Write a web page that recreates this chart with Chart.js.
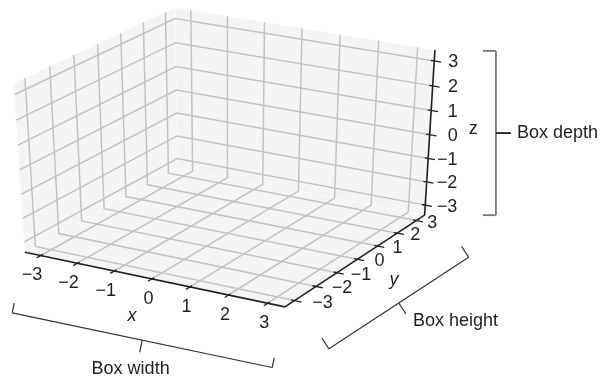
<!DOCTYPE html>
<html>
<head>
<meta charset="utf-8">
<script src="https://cdn.jsdelivr.net/npm/chart.js@4/dist/chart.umd.min.js"></script>
<style>
    html, body { margin: 0; padding: 0; background: #fff; }
</style>
</head>
<body>
<canvas id="chart-box" width="609" height="378"></canvas>
<script>
(function () {
    // ===== 데이터 =====
    const ticks = [-3, -2, -1, 0, 1, 2, 3];            // x, y, z 공통 눈금
    const tickLabels = ['−3', '−2', '−1', '0', '1', '2', '3'];
    const dataLimits = [-3.3, 3.3];                      // 자동 스케일된 축 범위
    const axisNames = ['x', 'y', 'z'];
    const bracketLabels = ['Box width', 'Box height', 'Box depth'];

    // ===== 3D 투영 (matplotlib mplot3d 기본 시점) =====
    const elev = 30, azim = -60, dist = 10;
    const span = dataLimits[1] - dataLimits[0];
    const lo = dataLimits[0] - span / 48;
    const hi = dataLimits[1] + span / 48;
    const tickDelta = span / 12;

    const el = elev * Math.PI / 180, az = azim * Math.PI / 180;
    const N = [Math.cos(az) * Math.cos(el), Math.sin(az) * Math.cos(el), Math.sin(el)];
    const U = [-Math.sin(az), Math.cos(az), 0];
    const V = [-Math.cos(az) * Math.sin(el), -Math.sin(az) * Math.sin(el), Math.cos(el)];

    function dot(a, b) { return a[0] * b[0] + a[1] * b[1] + a[2] * b[2]; }

    function project(p) {
        const q = p.map(function (v) { return (v - dataLimits[0]) / span - 0.5; });
        const w = dist - dot(N, q);
        return { x: dot(U, q) / w, y: dot(V, q) / w };
    }

    // 화면 배치: 투영좌표 0 의 픽셀 위치와 단위당 픽셀
    const W = 609, H = 378;
    const origin = [228, 152];
    const pxPerUnit = [2881, 1851];

    // ===== 스타일 =====
    const TEXT = '#231f20';
    const GRID = '#c1c2c6';
    const FONT = '18px "Liberation Sans", Arial, Helvetica, sans-serif';
    const ITALIC = 'italic 18px "Liberation Sans", Arial, Helvetica, sans-serif';

    function line(points, color, width, order, extra) {
        return Object.assign({
            data: points.map(project),
            showLine: true,
            borderColor: color,
            borderWidth: width,
            pointRadius: 0,
            fill: false,
            order: order
        }, extra || {});
    }

    const datasets = [];

    // 패널 (x=min, y=max, z=min)
    const panes = [
        [[lo, lo, lo], [lo, hi, lo], [lo, hi, hi], [lo, lo, hi], [lo, lo, lo]],
        [[lo, hi, lo], [hi, hi, lo], [hi, hi, hi], [lo, hi, hi], [lo, hi, lo]],
        [[lo, lo, lo], [hi, lo, lo], [hi, hi, lo], [lo, hi, lo], [lo, lo, lo]]
    ];
    panes.forEach(function (p) {
        datasets.push(line(p, '#fafafb', 1, 5, { fill: 'shape', backgroundColor: '#f3f4f5' }));
    });

    // 그리드
    ticks.forEach(function (v) {
        datasets.push(line([[v, lo, lo], [v, hi, lo], [v, hi, hi]], GRID, 1.5, 4));
        datasets.push(line([[lo, v, hi], [lo, v, lo], [hi, v, lo]], GRID, 1.5, 4));
        datasets.push(line([[hi, hi, v], [lo, hi, v], [lo, lo, v]], GRID, 1.5, 4));
    });

    // 축선
    datasets.push(line([[lo, lo, lo], [hi, lo, lo]], TEXT, 1.6, 2));
    datasets.push(line([[hi, lo, lo], [hi, hi, lo]], TEXT, 1.6, 2));
    datasets.push(line([[hi, hi, lo], [hi, hi, hi]], TEXT, 1.6, 2));

    // 눈금선
    const tIn = 0.1 * tickDelta * 1.6, tOut = 0.2 * tickDelta * 1.6;
    ticks.forEach(function (v) {
        datasets.push(line([[v, lo + tIn, lo], [v, lo - tOut, lo]], TEXT, 1.3, 1));
        datasets.push(line([[hi - tIn, v, lo], [hi + tOut, v, lo]], TEXT, 1.3, 1));
        datasets.push(line([[hi - tIn, hi, v], [hi + tOut, hi, v]], TEXT, 1.3, 1));
    });

    // ===== 텍스트 / 괄호 플러그인 =====
    const labelPlugin = {
        id: 'boxLabels',
        afterDatasetsDraw: function (chart) {
            const ctx = chart.ctx;
            const sx = chart.scales.x, sy = chart.scales.y;
            function px(p) {
                const r = project(p);
                return [sx.getPixelForValue(r.x), sy.getPixelForValue(r.y)];
            }
            function seg(a, b, color, width) {
                ctx.beginPath();
                ctx.strokeStyle = color;
                ctx.lineWidth = width;
                ctx.moveTo(a[0], a[1]);
                ctx.lineTo(b[0], b[1]);
                ctx.stroke();
            }

            ctx.save();
            ctx.fillStyle = TEXT;
            ctx.font = FONT;
            ctx.textBaseline = 'middle';

            // 눈금 라벨
            ticks.forEach(function (v, i) {
                let p = px([v, lo, lo]);
                ctx.textAlign = 'right';
                ctx.fillText(tickLabels[i], p[0] + 1.5, p[1] + 20);

                p = px([hi, v, lo]);
                ctx.textAlign = 'center';
                ctx.fillText(tickLabels[i], p[0] + 22 - 2 * v, p[1] + 2);

                p = px([hi, hi, v]);
                ctx.textAlign = 'right';
                ctx.fillText(tickLabels[i], p[0] + 28 - 1.33 * v, p[1] + 1.5);
            });

            // 축 이름
            ctx.font = ITALIC;
            ctx.textAlign = 'center';
            let m = px([0, lo, lo]);
            ctx.fillText(axisNames[0], m[0] - 20, m[1] + 37.5);
            m = px([hi, 0, lo]);
            ctx.fillText(axisNames[1], m[0] + 36.5, m[1] + 21);
            m = px([hi, hi, 0]);
            ctx.font = FONT;
            ctx.fillText(axisNames[2], m[0] + 43.5, m[1] - 6);

            // 괄호 공통
            ctx.font = FONT;
            function bracket(a, b, armDir, armLen, tickLen, color, width) {
                seg(a, b, color, width);
                seg(a, [a[0] + armDir[0] * armLen, a[1] + armDir[1] * armLen], color, width);
                seg(b, [b[0] + armDir[0] * armLen, b[1] + armDir[1] * armLen], color, width);
                const mid = [(a[0] + b[0]) / 2, (a[1] + b[1]) / 2];
                const end = [mid[0] - armDir[0] * tickLen, mid[1] - armDir[1] * tickLen];
                return [mid, end];
            }

            // Box width (x 축과 평행)
            const p1 = px([lo, lo, lo]), p2 = px([hi, lo, lo]), p3 = px([hi, hi, lo]), p4 = px([hi, hi, hi]);
            let dx = p2[0] - p1[0], dy = p2[1] - p1[1], len = Math.hypot(dx, dy);
            let n = [-dy / len, dx / len];
            let a = [p1[0] + n[0] * 62, p1[1] + n[1] * 62];
            let b = [p2[0] + n[0] * 62, p2[1] + n[1] * 62];
            let t = bracket(a, b, [-n[0], -n[1]], 10, 12.5, '#333', 1.2);
            seg(t[0], t[1], '#333', 1.2);
            ctx.textAlign = 'center';
            ctx.fillText(bracketLabels[0], t[1][0] - 9, t[1][1] + 17);

            // Box height (y 축과 평행)
            dx = p3[0] - p2[0]; dy = p3[1] - p2[1]; len = Math.hypot(dx, dy);
            n = [-dy / len, dx / len];
            a = [p2[0] + 44, p2[1] + 42];
            b = [p3[0] + 44, p3[1] + 42];
            t = bracket(a, b, [-n[0], -n[1]], 13, 13, '#333', 1.2);
            seg(t[0], t[1], '#333', 1.2);
            ctx.textAlign = 'left';
            ctx.fillText(bracketLabels[1], t[1][0] + 7, t[1][1] + 7);

            // Box depth (z 축 높이)
            const bx = p4[0] + 61;
            a = [bx, p4[1] + 1];
            b = [bx, p3[1]];
            t = bracket(a, b, [-1, 0], 13, 15, '#77787b', 1.8);
            seg(t[0], t[1], TEXT, 1.8);
            ctx.textAlign = 'left';
            ctx.fillText(bracketLabels[2], t[1][0] + 6, t[1][1]);

            ctx.restore();
        }
    };

    new Chart(document.getElementById('chart-box'), {
        type: 'scatter',
        data: { datasets: datasets },
        options: {
            responsive: false,
            animation: false,
            devicePixelRatio: 1,
            layout: { padding: 0 },
            plugins: { legend: { display: false }, tooltip: { enabled: false } },
            scales: {
                x: { type: 'linear', display: false, min: -origin[0] / pxPerUnit[0], max: (W - origin[0]) / pxPerUnit[0] },
                y: { type: 'linear', display: false, min: (origin[1] - H) / pxPerUnit[1], max: origin[1] / pxPerUnit[1] }
            }
        },
        plugins: [labelPlugin]
    });
})();
</script>
</body>
</html>
